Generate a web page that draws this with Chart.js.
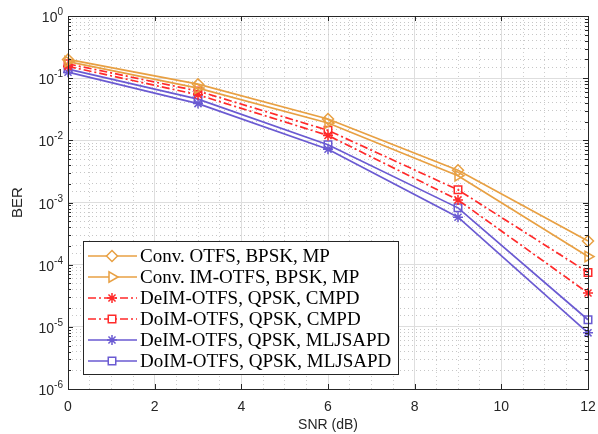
<!DOCTYPE html>
<html>
<head>
<meta charset="utf-8">
<script src="https://cdn.jsdelivr.net/npm/chart.js@4.4.1/dist/chart.umd.min.js"></script>
<style>
  html, body { margin: 0; padding: 0; background: #fff; }
  #wrap { width: 598px; height: 434px; }
</style>
</head>
<body>
<div id="wrap"><canvas id="berChart"></canvas></div>
<script>
'use strict';
// SNR points (dB)
const snr = [0, 3, 6, 9, 12]

// BER
const convOtfs = [0.20, 0.080, 0.022, 0.0033, 2.4e-4]
const convImOtfs = [0.185, 0.069, 0.019, 0.0027, 1.35e-4]
const deimCmpd = [0.155, 0.054, 0.012, 0.0011, 3.5e-5]
const doimCmpd = [0.17, 0.062, 0.0145, 0.0016, 7.5e-5]
const deimMljsapd = [0.125, 0.039, 0.0072, 0.00058, 8e-6]
const doimMljsapd = [0.14, 0.046, 0.0085, 0.00082, 1.3e-5]

const seriesNames = [
  'Conv. OTFS, BPSK, MP',
  'Conv. IM-OTFS, BPSK, MP',
  'DeIM-OTFS, QPSK, CMPD',
  'DoIM-OTFS, QPSK, CMPD',
  'DeIM-OTFS, QPSK, MLJSAPD',
  'DoIM-OTFS, QPSK, MLJSAPD'
]

const xTickLabels = [0, 2, 4, 6, 8, 10, 12]
const yTickExps = [0, -1, -2, -3, -4, -5, -6]

const orange = '#E8A043'
const red = '#FF2A2A'
const violet = '#6A5AD2'
const axisColor = '#262626'

function isMajorX(v) {
  return Math.abs(v / 2 - Math.round(v / 2)) < 1e-6
}
function isDecade(v) {
  const l = Math.log10(v)
  return Math.abs(l - Math.round(l)) < 1e-6
}

function makeSeries(label, data, color, style, dash, radius, rotation) {
  return {
    label: label,
    data: data,
    borderColor: color,
    backgroundColor: 'rgba(0,0,0,0)',
    borderWidth: 1.7,
    borderDash: dash,
    pointStyle: style,
    pointRadius: radius,
    pointRotation: rotation || 0,
    pointBorderWidth: 1.5,
    pointBorderColor: color,
    pointBackgroundColor: 'rgba(0,0,0,0)',
    tension: 0,
    clip: false
  }
}

const dashDot = [8, 3, 2, 3]

// axis box, inner ticks, y labels and legend
const decorPlugin = {
  id: 'decor',
  afterDraw(chart) {
    const ctx = chart.ctx
    const area = chart.chartArea
    const xs = chart.scales.x
    const ys = chart.scales.y
    ctx.save()
    ctx.strokeStyle = axisColor
    ctx.lineWidth = 1
    ctx.setLineDash([])
    // inner ticks
    ctx.beginPath()
    for (const v of xTickLabels) {
      const px = Math.round(xs.getPixelForValue(v)) + 0.5
      ctx.moveTo(px, area.bottom); ctx.lineTo(px, area.bottom - 5)
      ctx.moveTo(px, area.top); ctx.lineTo(px, area.top + 5)
    }
    for (let e = -6; e <= 0; e++) {
      for (let m = 1; m <= 9; m++) {
        if (e === 0 && m > 1) break
        const py = Math.round(ys.getPixelForValue(m * Math.pow(10, e))) + 0.5
        const len = m === 1 ? 5 : 3
        ctx.moveTo(area.left, py); ctx.lineTo(area.left + len, py)
        ctx.moveTo(area.right, py); ctx.lineTo(area.right - len, py)
      }
    }
    ctx.stroke()
    // box
    ctx.strokeRect(Math.round(area.left) + 0.5, Math.round(area.top) + 0.5,
      Math.round(area.right - area.left), Math.round(area.bottom - area.top))

    // y tick labels 10^e
    ctx.fillStyle = axisColor
    ctx.textBaseline = 'alphabetic'
    for (const e of yTickExps) {
      const py = ys.getPixelForValue(Math.pow(10, e))
      const sup = String(e)
      ctx.font = '10px "Liberation Sans", Arial, sans-serif'
      const supW = ctx.measureText(sup).width
      const right = area.left - 5
      ctx.textAlign = 'left'
      ctx.fillText(sup, right - supW, py - 1)
      ctx.font = '14px "Liberation Sans", Arial, sans-serif'
      ctx.textAlign = 'right'
      ctx.fillText('10', right - supW, py + 6)
    }

    // legend
    const bx = 83, by = 241, bw = 315, bh = 133
    ctx.fillStyle = '#fff'
    ctx.fillRect(bx, by, bw, bh)
    ctx.strokeStyle = axisColor
    ctx.lineWidth = 1
    ctx.strokeRect(bx + 0.5, by + 0.5, bw, bh)
    chart.data.datasets.forEach((ds, i) => {
      const y = by + 15 + i * 21
      ctx.strokeStyle = ds.borderColor
      ctx.lineWidth = ds.borderWidth
      ctx.setLineDash(ds.borderDash || [])
      ctx.beginPath()
      ctx.moveTo(88, y); ctx.lineTo(137, y)
      ctx.stroke()
      ctx.setLineDash([])
      ctx.fillStyle = '#fff'
      ctx.lineWidth = ds.pointBorderWidth
      Chart.helpers.drawPoint(ctx, {
        pointStyle: ds.pointStyle,
        rotation: ds.pointRotation,
        radius: ds.pointRadius,
        borderWidth: ds.pointBorderWidth
      }, 112, y)
      ctx.fillStyle = '#000'
      ctx.font = '19px "Liberation Serif", "Times New Roman", serif'
      ctx.textAlign = 'left'
      ctx.textBaseline = 'middle'
      ctx.fillText(ds.label, 140, y + 1)
    })
    ctx.restore()
  }
}

const ctx = document.getElementById('berChart')

const berChart = new Chart(ctx, {
  type: 'line',
  data: {
    datasets: [
      makeSeries(seriesNames[0], convOtfs.map((v, i) => ({x: snr[i], y: v})), orange, 'rectRot', [], 5.5),
      makeSeries(seriesNames[1], convImOtfs.map((v, i) => ({x: snr[i], y: v})), orange, 'triangle', [], 6, 90),
      makeSeries(seriesNames[2], deimCmpd.map((v, i) => ({x: snr[i], y: v})), red, 'star', dashDot, 5),
      makeSeries(seriesNames[3], doimCmpd.map((v, i) => ({x: snr[i], y: v})), red, 'rect', dashDot, 5.3),
      makeSeries(seriesNames[4], deimMljsapd.map((v, i) => ({x: snr[i], y: v})), violet, 'star', [], 5),
      makeSeries(seriesNames[5], doimMljsapd.map((v, i) => ({x: snr[i], y: v})), violet, 'rect', [], 5.3)
    ]
  },
  options: {
    responsive: true,
    maintainAspectRatio: false,
    animation: false,
    devicePixelRatio: 1,
    layout: { padding: { top: 16, right: 10, left: 0, bottom: 0 } },
    plugins: {
      legend: { display: false },
      tooltip: { enabled: false }
    },
    scales: {
      x: {
        type: 'linear',
        min: 0,
        max: 12,
        afterFit: (scale) => {
          scale.height = 45
          scale.paddingLeft = 0
          scale.paddingRight = 0
        },
        ticks: {
          stepSize: 0.5,
          maxTicksLimit: 100,
          autoSkip: false,
          maxRotation: 0,
          padding: 10,
          color: axisColor,
          font: { family: '"Liberation Sans", Arial, sans-serif', size: 14 },
          callback: (v) => isMajorX(v) ? String(Math.round(v)) : ''
        },
        grid: {
          drawTicks: false,
          lineWidth: 1,
          color: (c) => isMajorX(c.tick.value) ? '#dedede' : '#cdcdcd'
        },
        border: {
          display: false,
          dash: (c) => (c.tick && isMajorX(c.tick.value)) ? [] : [1, 3]
        },
        title: {
          display: true,
          text: 'SNR (dB)',
          color: axisColor,
          font: { family: '"Liberation Sans", Arial, sans-serif', size: 14 },
          padding: { top: 1, bottom: 0 }
        }
      },
      y: {
        type: 'logarithmic',
        min: 1e-6,
        max: 1,
        afterFit: (scale) => { scale.width = 68 },
        ticks: { display: false },
        grid: {
          drawTicks: false,
          lineWidth: 1,
          color: (c) => isDecade(c.tick.value) ? '#dedede' : '#c6c6c6'
        },
        border: {
          display: false,
          dash: (c) => (c.tick && isDecade(c.tick.value)) ? [] : [1, 3]
        },
        title: {
          display: true,
          text: 'BER',
          color: axisColor,
          font: { family: '"Liberation Sans", Arial, sans-serif', size: 15 },
          padding: { top: 9, bottom: 0 }
        }
      }
    }
  },
  plugins: [decorPlugin]
})
</script>
</body>
</html>
